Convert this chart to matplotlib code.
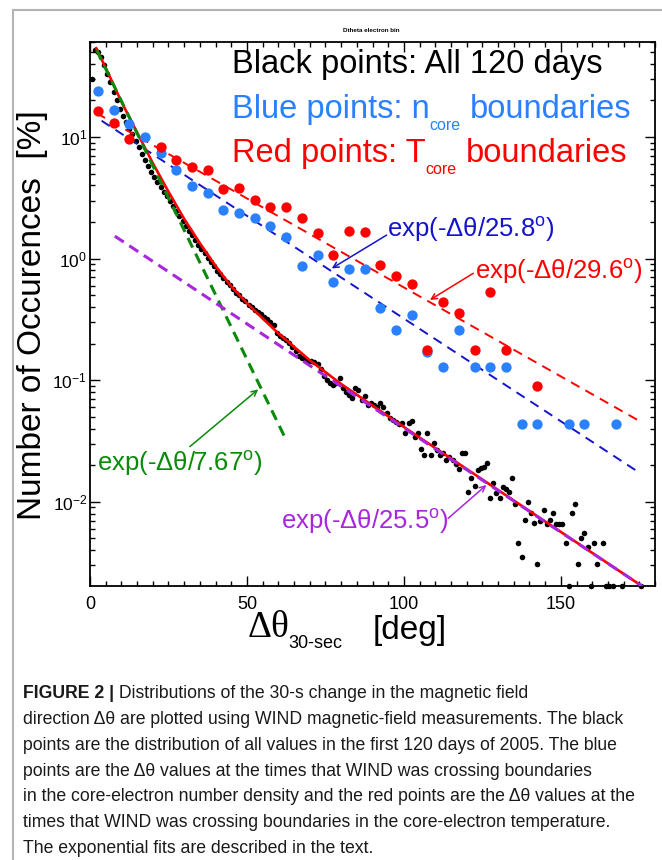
import numpy as np
import matplotlib
matplotlib.use("Agg")
import matplotlib.pyplot as plt
from matplotlib.lines import Line2D
from matplotlib.ticker import LogLocator, MultipleLocator, NullFormatter, LogFormatterSciNotation

plt.rcParams['font.family'] = ['Liberation Sans', 'DejaVu Sans']
plt.rcParams['mathtext.fontset'] = 'custom'
plt.rcParams['mathtext.rm'] = 'Liberation Sans'
plt.rcParams['mathtext.it'] = 'Liberation Sans:italic'
plt.rcParams['mathtext.bf'] = 'Liberation Sans:bold'
plt.rcParams['axes.unicode_minus'] = False

W, H = 662, 860

# black points: all 120 days, 1-degree bins (None = no point shown)
black_x = np.arange(0.5, 180, 1.0)
black_pct = [
    30, 52, 50, 45.7, 38.9, 33.1, 28.2, 23.4, 20.0, 17.0,
    14.8, 13.2, 11.7, 10.5, 9.33, 8.32, 7.24, 6.46, 5.75, 5.13,
    4.68, 4.27, 3.89, 3.55, 3.24, 2.95, 2.69, 2.45, 2.24, 2.04,
    1.86, 1.70, 1.55, 1.41, 1.29, 1.20, 1.12, 1.02, 0.933, 0.871,
    0.794, 0.741, 0.692, 0.646, 0.603, 0.562, 0.525, 0.501, 0.468, 0.447,
    0.417, 0.398, 0.380, 0.363, 0.347, 0.331, 0.316, 0.302, 0.282, 0.245,
    0.229, 0.221, 0.214, 0.204, 0.186, 0.174, 0.158, 0.151, 0.148, 0.145,
    0.145, 0.141, 0.135, 0.123, 0.108, 0.100, 0.0955, 0.0912, 0.0955, 0.1035,
    0.0857, 0.0794, 0.0759, 0.0708, 0.0857, 0.0832, 0.0687, 0.0741, 0.0631, 0.0646,
    0.0631, 0.0603, 0.0646, 0.0605, 0.0537, 0.0490, 0.0468, 0.0457, 0.0437, 0.0442,
    0.0370, 0.0442, 0.0465, 0.0339, 0.0366, 0.0270, 0.0243, 0.0366, 0.0243, 0.0302,
    0.0267, 0.0243, 0.0254, 0.0221, 0.0232, 0.0221, 0.0204, 0.0185, 0.0254, 0.0254,
    0.0121, 0.0156, 0.0135, 0.0183, 0.0189, 0.0195, 0.0210, 0.0107, 0.0142, 0.0117,
    0.0107, 0.0132, 0.0127, 0.0121, 0.0156, 0.0096, 0.00457, 0.0035, 0.00708, 0.0100,
    0.00813, 0.00665, 0.00306, 0.0070, 0.00857, 0.0066, 0.00708, 0.00804, 0.0066, 0.0066,
    0.0066, 0.00457, 0.00203, 0.00804, 0.0096, 0.00306, 0.0050, 0.00557, 0.00427, 0.00203,
    0.00457, 0.00306, None, 0.00457, 0.00203, 0.00203, 0.00203, None, None, 0.00203,
    None, None, None, None, None, 0.00203, None, None, None, None,
]

# blue (n_core boundaries) and red (T_core boundaries), 5-degree bins
bin5_x = np.arange(2.5, 170, 5.0)
blue_pct = [24.0, 16.7, 12.7, 10.0, 7.35, 5.36, 3.98, 3.48, 2.51, 2.38,
            2.14, 1.85, 1.51, 0.869, 1.08, 0.645, 0.817, 0.82, 0.390, 0.259,
            0.343, 0.171, 0.129, 0.259, 0.129, 0.129, 0.129, 0.0434, 0.0434, None,
            0.0434, 0.0434, None, 0.0434]
red_pct = [16.4, 13.0, 9.57, None, 8.32, 6.47, 5.70, 5.36, 3.72, 3.79,
           3.03, 2.64, 2.64, 2.14, 1.63, 1.07, 1.69, 1.65, 0.885, 0.715,
           0.622, 0.177, 0.44, 0.357, 0.177, 0.535, 0.177, None, 0.0895, None,
           None, None, None, None]

# fitted exponentials (end points)
fit_blue_x, fit_blue_y = [3.7, 175.4], [13.6, 0.0171]
fit_red_x, fit_red_y = [2.1, 175.4], [15.7, 0.0456]
fit_green_x, fit_green_y = [2.1, 62.5], [51.9, 0.0322]
fit_purple_x, fit_purple_y = [7.9, 175.8], [1.53, 0.00203]
total_x = [2, 5, 10, 15, 20, 25, 30, 35, 40, 45, 50, 55, 60, 70, 80, 100, 130, 175.8]
total_y = [53.6, 37.0, 19.5, 10.9, 6.1, 3.55, 2.12, 1.34, 0.87, 0.59, 0.43, 0.322,
           0.243, 0.146, 0.093, 0.0412, 0.0125, 0.00203]

c_bpts = '#2a80ff'
c_red = '#ff0000'
c_blue = '#1414cc'
c_green = '#0a8a0a'
c_purple = '#a826dc'


def P(x, y):
    return (x / W, 1 - y / H)


fig = plt.figure(figsize=(W / 100, H / 100), dpi=100)
ax = fig.add_axes([90 / W, 1 - 586 / H, (655 - 90) / W, (586 - 42) / H])

ax.scatter(black_x, np.array(black_pct, dtype=float), s=16, c='black', lw=0, zorder=2, clip_on=False)

ax.plot(fit_red_x, fit_red_y, color=c_red, lw=1.4, dashes=(5, 3.5), zorder=3)
ax.plot(fit_blue_x, fit_blue_y, color=c_blue, lw=1.4, dashes=(5, 3.5), zorder=3)
ax.plot(total_x, total_y, color=c_red, lw=1.9, zorder=3)
ax.plot(fit_green_x, fit_green_y, color=c_green, lw=2.2, dashes=(3.5, 2.2), zorder=3)
ax.plot(fit_purple_x, fit_purple_y, color=c_purple, lw=2.2, dashes=(3.5, 2.2), zorder=3)

ax.scatter(bin5_x, np.array(blue_pct, dtype=float), s=55, c=c_bpts, lw=0, zorder=4)
ax.scatter(bin5_x, np.array(red_pct, dtype=float), s=55, c=c_red, lw=0, zorder=5)

ax.set_yscale('log')
ax.set_xlim(0, 180)
ax.set_ylim(0.00203, 60.4)
ax.xaxis.set_major_locator(MultipleLocator(50))
ax.xaxis.set_minor_locator(MultipleLocator(5))
ax.yaxis.set_major_locator(LogLocator(base=10))
ax.yaxis.set_minor_locator(LogLocator(base=10, subs=np.arange(2, 10)))
ax.yaxis.set_major_formatter(LogFormatterSciNotation())
ax.yaxis.set_minor_formatter(NullFormatter())
ax.tick_params(which='both', direction='in', top=True, right=True, width=1, labelsize=13)
ax.tick_params(axis='y', labelsize=12.5, pad=2)
ax.tick_params(which='major', length=7)
ax.tick_params(which='minor', length=3.5)
ax.tick_params(axis='x', pad=7)
for s in ax.spines.values():
    s.set_linewidth(1.3)

# fit labels and arrows
arr = dict(arrowstyle='->', lw=1.1, shrinkA=0, shrinkB=0, mutation_scale=10)
ax.text(94.6, 1.72, 'exp(-Δθ/25.8$^{\\rm o}$)', color=c_blue, fontsize=18.5, va='center', ha='left')
ax.annotate('', xy=(77.0, 0.83), xytext=(94.5, 1.56), arrowprops=dict(arr, color=c_blue))
ax.text(122.6, 0.776, 'exp(-Δθ/29.6$^{\\rm o}$)', color=c_red, fontsize=18.5, va='center', ha='left')
ax.annotate('', xy=(108.3, 0.457), xytext=(122.1, 0.757), arrowprops=dict(arr, color=c_red))
ax.text(2.2, 0.0208, 'exp(-Δθ/7.67$^{\\rm o}$)', color=c_green, fontsize=18.5, va='center', ha='left')
ax.annotate('', xy=(53.6, 0.0841), xytext=(31.8, 0.0284), arrowprops=dict(arr, color=c_green))
ax.text(61.0, 0.00685, 'exp(-Δθ/25.5$^{\\rm o}$)', color=c_purple, fontsize=18.5, va='center', ha='left')
ax.annotate('', xy=(126.3, 0.01374), xytext=(114.1, 0.00731), arrowprops=dict(arr, color=c_purple))

# legend text
fig.text(*P(232, 72.7), 'Black points: All 120 days', fontsize=23.5, va='baseline', color='black')
for label, yb, ysub, col in [('Blue points: n', 118.3, 130, c_bpts), ('Red points: T', 161.7, 174, c_red)]:
    t = fig.text(*P(232, yb), label, fontsize=23.5, va='baseline', color=col)
    sub = ax.annotate('core', xy=(1, P(0, ysub)[1]), xycoords=(t, 'figure fraction'),
                      fontsize=11.5, va='baseline', ha='left', color=col)
    ax.annotate('boundaries', xy=(1, P(0, yb)[1]), xycoords=(sub, 'figure fraction'),
                xytext=(9, 0), textcoords='offset pixels',
                fontsize=23.5, va='baseline', ha='left', color=col)

# title and axis labels
fig.text(*P(371, 31), 'Dtheta electron bin', fontsize=4.5, fontweight='bold', ha='center', va='center')
fig.text(*P(33, 315), 'Number of Occurences  [%]', rotation=90, fontsize=24, ha='center', va='center')
fig.text(*P(248, 628), 'Δθ', family=['Liberation Serif', 'DejaVu Serif'], fontsize=27, ha='left', va='center')
fig.text(*P(288, 644), '30-sec', fontsize=13, ha='left', va='center')
fig.text(*P(373, 630), '[deg]', fontsize=24, ha='left', va='center')

# frame lines
fig.add_artist(Line2D([13 / W, 13 / W], [0, 1 - 10 / H], color='#b4b4b4', lw=1.5, transform=fig.transFigure))
fig.add_artist(Line2D([13 / W, 1], [1 - 10 / H, 1 - 10 / H], color='#b4b4b4', lw=1.5, transform=fig.transFigure))

# caption
cap_font = ['Liberation Sans', 'DejaVu Sans']
caption_lines = [
    ' Distributions of the 30-s change in the magnetic field',
    'direction Δθ are plotted using WIND magnetic-field measurements. The black',
    'points are the distribution of all values in the first 120 days of 2005. The blue',
    'points are the Δθ values at the times that WIND was crossing boundaries',
    'in the core-electron number density and the red points are the Δθ values at the',
    'times that WIND was crossing boundaries in the core-electron temperature.',
    'The exponential fits are described in the text.',
]
for i, line in enumerate(caption_lines):
    y = 692 + i * 25.7
    if i == 0:
        fb = fig.text(*P(23, y), 'FIGURE 2 |', family=cap_font, fontweight='bold', fontsize=12.7,
                      ha='left', va='center_baseline', color='#1a1a1a')
        ax.annotate(line, xy=(1, P(0, y)[1]), xycoords=(fb, 'figure fraction'), family=cap_font,
                    fontsize=12.7, ha='left', va='center_baseline', color='#1a1a1a')
    else:
        fig.text(*P(23, y), line, family=cap_font, fontsize=12.7, ha='left', va='center_baseline',
                 color='#1a1a1a')

fig.savefig('out.png', dpi=100)
